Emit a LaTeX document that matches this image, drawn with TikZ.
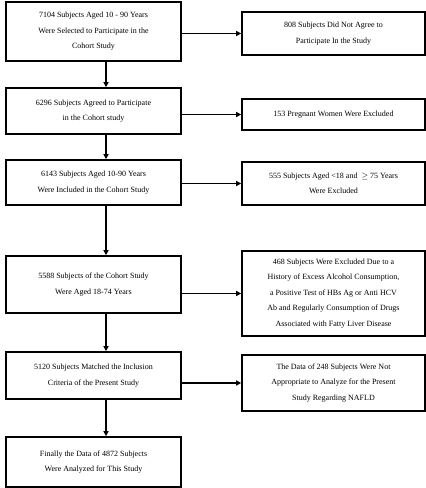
\documentclass[tikz,border=0pt]{standalone}
\usepackage{fontspec}
\setmainfont{Liberation Serif}
\usepackage{tikz}
\usetikzlibrary{arrows.meta}

\begin{document}
\begin{tikzpicture}[x=1pt,y=-1pt,
    stage/.style={draw,line width=1.6pt,rectangle,align=center,inner sep=0pt,
        font=\fontsize{8}{15.5}\selectfont,minimum width=175pt},
    drop/.style={stage,minimum width=183pt},
    flow/.style={line width=1.6pt,-{Triangle[length=5pt,width=5pt]}}]
    \useasboundingbox (0,0) rectangle (426,488);
    %left column
    \node[stage,minimum height=59pt] (s1) at (93.5,31.5) {7104 Subjects Aged 10 - 90 Years\\Were Selected to Participate in the\\Cohort Study};
    \node[stage,minimum height=46pt] (s2) at (93.5,111) {6296 Subjects Agreed to Participate\\in the Cohort study};
    \node[stage,minimum height=45pt] (s3) at (93.5,182.5) {6143 Subjects Aged 10-90 Years\\Were Included in the Cohort Study};
    \node[stage,minimum height=57pt] (s4) at (93.5,284.5) {5588 Subjects of the Cohort Study\\Were Aged 18-74 Years};
    \node[stage,minimum height=47pt] (s5) at (93.5,375.5) {5120 Subjects Matched the Inclusion\\Criteria of the Present Study};
    \node[stage,minimum height=50pt] (s6) at (93.5,462) {Finally the Data of 4872 Subjects\\Were Analyzed for This Study};
    %right column
    \node[drop,minimum height=43pt] (x1) at (333.5,33.5) {808 Subjects Did Not Agree to\\Participate In the Study};
    \node[drop,minimum height=31pt] (x2) at (333.5,114.5) {153 Pregnant Women Were Excluded};
    \node[drop,minimum height=43pt] (x3) at (333.5,183.5) {555 Subjects Aged <18 and \ $\geq$ 75 Years\\Were Excluded};
    \node[drop,minimum height=85pt] (x4) at (333.5,293.5) {468 Subjects Were Excluded Due to a\\History of Excess Alcohol Consumption,\\a Positive Test of HBs Ag or Anti HCV\\Ab and Regularly Consumption of Drugs\\Associated with Fatty Liver Disease};
    \node[drop,minimum height=56pt] (x5) at (333.5,383) {The Data of 248 Subjects Were Not\\Appropriate to Analyze for the Present\\Study Regarding NAFLD};
    %down arrows
    \foreach \a/\b in {s1/s2,s2/s3,s3/s4,s4/s5,s5/s6}
        \draw[flow] ([xshift=12.5pt]\a.south) -- ([xshift=12.5pt]\b.north);
    %side arrows
    \foreach \i in {1,...,5}
        \draw[flow] (s\i.east |- x\i.west) -- (x\i.west);
\end{tikzpicture}
\end{document}
